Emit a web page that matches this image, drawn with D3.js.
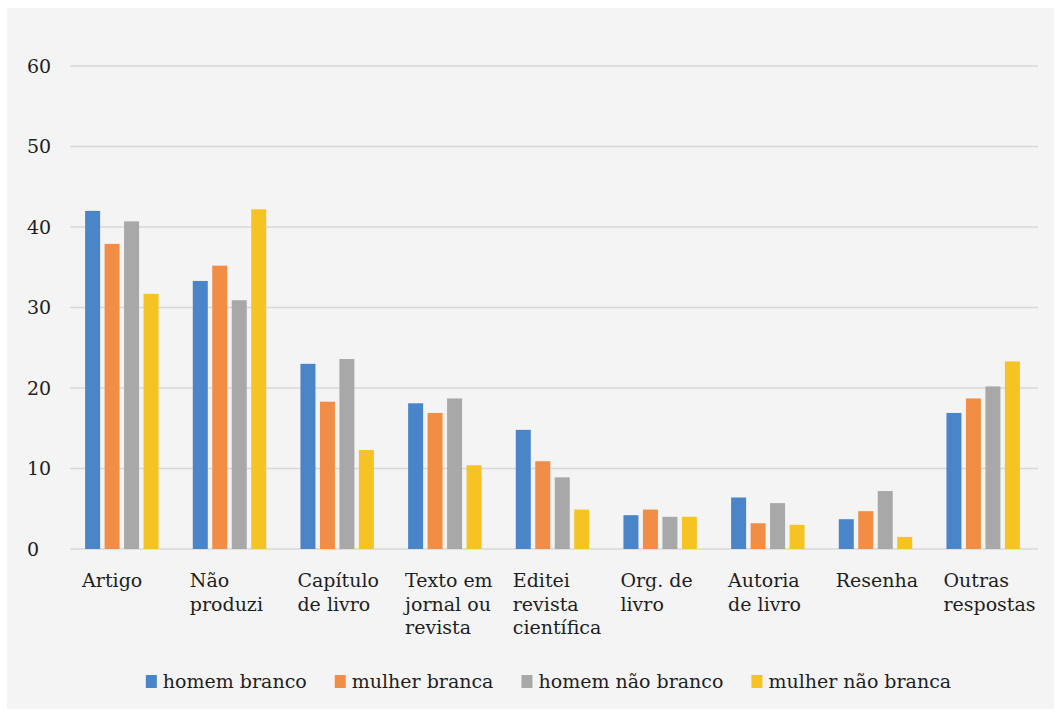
<!DOCTYPE html>
<html>
<head>
<meta charset="utf-8">
<script src="https://cdn.jsdelivr.net/npm/d3@7"></script>
<style>
  html, body { margin: 0; padding: 0; background: #ffffff; }
  svg { display: block; }
  text { font-family: "DejaVu Serif", serif; fill: #1e1e1e; }
</style>
</head>
<body>
<svg id="chart" width="1060" height="716"></svg>
<script>
// Produção acadêmica por grupo (%)
const categories = [
  ["Artigo"],
  ["Não", "produzi"],
  ["Capítulo", "de livro"],
  ["Texto em", "jornal ou", "revista"],
  ["Editei", "revista", "científica"],
  ["Org. de", "livro"],
  ["Autoria", "de livro"],
  ["Resenha"],
  ["Outras", "respostas"]
];
const seriesNames = ["homem branco", "mulher branca", "homem não branco", "mulher não branca"];
const homemBranco     = [42.0, 33.3, 23.0, 18.1, 14.8, 4.2, 6.4, 3.7, 16.9];
const mulherBranca    = [37.9, 35.2, 18.3, 16.9, 10.9, 4.9, 3.2, 4.7, 18.7];
const homemNaoBranco  = [40.7, 30.9, 23.6, 18.7,  8.9, 4.0, 5.7, 7.2, 20.2];
const mulherNaoBranca = [31.7, 42.2, 12.3, 10.4,  4.9, 4.0, 3.0, 1.5, 23.3];
const yTicks = [0, 10, 20, 30, 40, 50, 60];
const colors = ["#4a84c9", "#f18d44", "#a8a8a8", "#f6c324"];

const seriesValues = [homemBranco, mulherBranca, homemNaoBranco, mulherNaoBranca];

const svg = d3.select("#chart");

// panel background
svg.append("rect")
  .attr("x", 7).attr("y", 8)
  .attr("width", 1047).attr("height", 701)
  .attr("fill", "#f4f4f4");

const plot = { left: 68, right: 1037, top: 66, bottom: 549 };

const x = d3.scaleBand()
  .domain(d3.range(categories.length))
  .range([plot.left, plot.right])
  .paddingInner(0.318)
  .paddingOuter(0.159);

const xs = d3.scaleBand()
  .domain(d3.range(seriesNames.length))
  .range([0, x.bandwidth()])
  .paddingInner(0.23)
  .paddingOuter(0);

const y = d3.scaleLinear().domain([0, 60]).range([plot.bottom, plot.top]);

// gridlines
svg.append("g")
  .selectAll("line")
  .data(yTicks)
  .join("line")
  .attr("x1", 70).attr("x2", 1038)
  .attr("y1", d => y(d)).attr("y2", d => y(d))
  .attr("stroke", "#d8d8d8")
  .attr("stroke-width", 1.6);

// y tick labels
svg.append("g")
  .selectAll("text")
  .data(yTicks)
  .join("text")
  .attr("x", 27)
  .attr("y", d => y(d))
  .attr("dy", "0.36em")
  .attr("font-size", 19)
  .text(d => d);

// bars
const groups = svg.append("g")
  .selectAll("g")
  .data(categories)
  .join("g")
  .attr("transform", (d, i) => `translate(${x(i)},0)`);

groups.selectAll("rect")
  .data((d, i) => seriesValues.map((vals, s) => ({ s, v: vals[i] })))
  .join("rect")
  .attr("x", d => xs(d.s))
  .attr("width", xs.bandwidth())
  .attr("y", d => y(d.v))
  .attr("height", d => y(0) - y(d.v))
  .attr("fill", d => colors[d.s]);

// category labels, left aligned under each group
const lab = svg.append("g")
  .selectAll("text")
  .data(categories)
  .join("text")
  .attr("x", (d, i) => x(i) - 3)
  .attr("y", 587)
  .attr("font-size", 19);

lab.selectAll("tspan")
  .data(d => d)
  .join("tspan")
  .attr("x", function () { return this.parentNode.getAttribute("x"); })
  .attr("dy", (d, i) => i === 0 ? 0 : 23.5)
  .text(d => d);

// legend
const legend = svg.append("g");
const legendY = 688;
let cursor = 0;
const items = [];
seriesNames.forEach((name, i) => {
  const g = legend.append("g");
  g.append("rect")
    .attr("x", 0).attr("y", legendY - 13)
    .attr("width", 11).attr("height", 13)
    .attr("fill", colors[i]);
  const t = g.append("text")
    .attr("x", 17).attr("y", legendY)
    .attr("font-size", 19)
    .text(name);
  const w = 17 + t.node().getComputedTextLength();
  g.attr("transform", `translate(${cursor},0)`);
  cursor += w + 28;
  items.push(g);
});
const totalW = cursor - 28;
legend.attr("transform", `translate(${(plot.left + plot.right) / 2 - totalW / 2 - 4},0)`);
</script>
</body>
</html>
